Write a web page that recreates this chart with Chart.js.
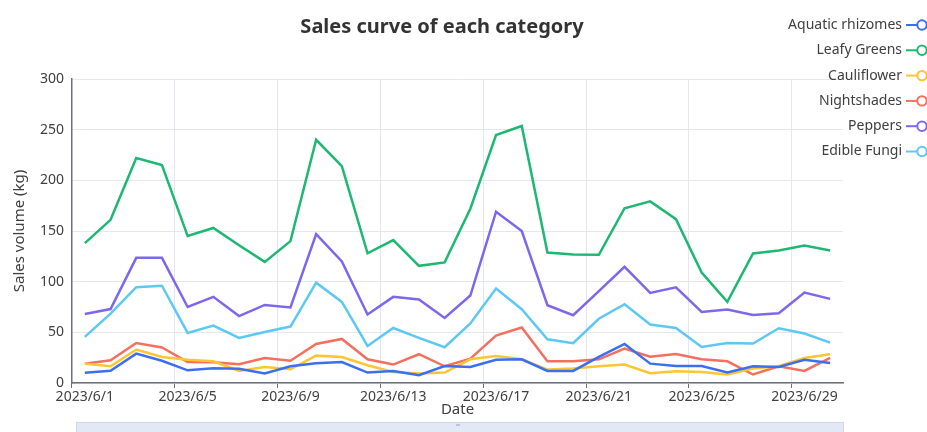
<!DOCTYPE html>
<html>
<head>
<meta charset="utf-8">
<script src="https://cdn.jsdelivr.net/npm/chart.js@4/dist/chart.umd.min.js"></script>
<style>
  html, body { margin: 0; padding: 0; background: #fff; }
  #wrap { width: 927px; height: 432px; position: relative; }
</style>
</head>
<body>
<div id="wrap"><canvas id="salesChart"></canvas></div>
<script>
// Datas: 2023/6/1 .. 2023/6/30
const dates = [];
for (let d = 1; d <= 30; d++) dates.push('2023/6/' + d);

const chartTitle = 'Sales curve of each category';
const seriesNames = ['Aquatic rhizomes', 'Leafy Greens', 'Cauliflower', 'Nightshades', 'Peppers', 'Edible Fungi'];
const seriesColors = ['#3c6ff0', '#1db871', '#fbc633', '#f4705e', '#7b68ee', '#5ec8f4'];

const aquaticRhizomes = [10, 12, 29, 22, 12.5, 14.5, 14, 9.3, 16.5, 19.5, 20.7, 10.3, 11.9, 7.6, 16.8, 15.8, 23, 23.4, 11.9, 11.9, 25.7, 38.5, 19.1, 16.8, 16.8, 10.3, 16.5, 15.8, 23, 19.8];
const leafyGreens = [138, 161, 222, 215, 145, 153, 136, 119.5, 140, 240, 214, 128, 141, 115.6, 119, 172, 244.7, 253.6, 128.8, 126.8, 126.5, 172.5, 179.2, 161.7, 109, 80, 127.8, 130.8, 135.7, 130.8];
const cauliflower = [19, 16.5, 33, 25.7, 23, 21.4, 11.9, 15.8, 13.5, 27, 25.7, 17.5, 10.9, 9.3, 10.3, 23.4, 26.6, 23.4, 13.2, 14.2, 16.5, 18.2, 9.6, 11.6, 10.9, 8.4, 14.2, 16.5, 24.7, 28.4];
const nightshades = [19, 22.4, 39.5, 35, 20.7, 20.4, 18.5, 24.7, 22, 38.5, 43.5, 23.4, 18.2, 28.4, 16.5, 24.1, 46.8, 54.7, 21.4, 21.4, 23.4, 34, 26, 28.7, 23.4, 21.4, 8.4, 16.5, 11.9, 24.7];
const peppers = [68, 73, 123.5, 123.5, 75, 85, 66, 77, 74.5, 147, 120, 67.6, 85, 82.4, 64.2, 86.3, 169, 150, 76.8, 66.9, 90.6, 114.6, 88.9, 94.5, 70.1, 72.5, 67.2, 68.9, 89.3, 83];
const edibleFungi = [45.5, 68.5, 94.5, 96, 49.4, 56.7, 44.5, 50.4, 55.7, 99, 80, 36.6, 54.3, 44.5, 35.3, 58.7, 93.2, 72.8, 43.2, 39.2, 63.4, 77.8, 57.7, 54.3, 35.6, 39.5, 38.9, 54, 48.8, 39.8];

const seriesValues = [aquaticRhizomes, leafyGreens, cauliflower, nightshades, peppers, edibleFungi];
const yTicks = [0, 50, 100, 150, 200, 250, 300];

const FONT = '"Noto Sans", "Open Sans", sans-serif';
const GRID = '#e4e7f0';
const AXIS = '#6e7079';
const TEXT = '#404040';

// título centrado na figura inteira (o plugin padrão centra no espaço sem padding)
const topTitle = {
    id: 'topTitle',
    afterDraw(chart) {
        const ctx = chart.ctx;
        ctx.save();
        ctx.font = 'bold 20px ' + FONT;
        ctx.fillStyle = '#333';
        ctx.textAlign = 'center';
        ctx.textBaseline = 'middle';
        ctx.fillText(chartTitle, 442, 27);
        ctx.restore();
    }
};

// legenda à direita, por cima do gráfico
const sideLegend = {
    id: 'sideLegend',
    afterDraw(chart) {
        const ctx = chart.ctx;
        ctx.save();
        ctx.font = '14px ' + FONT;
        ctx.textAlign = 'right';
        ctx.textBaseline = 'middle';
        chart.data.datasets.forEach((ds, i) => {
            const y = 25 + i * 25.3;
            ctx.fillStyle = TEXT;
            ctx.fillText(ds.label, 902, y);
            ctx.strokeStyle = ds.borderColor;
            ctx.lineWidth = 2;
            ctx.beginPath();
            ctx.moveTo(906, y);
            ctx.lineTo(917, y);
            ctx.stroke();
            ctx.beginPath();
            ctx.arc(922, y, 4.7, 0, Math.PI * 2);
            ctx.fillStyle = '#fff';
            ctx.fill();
            ctx.stroke();
        });
        ctx.restore();
    }
};

// barra de zoom cortada no rodapé
const zoomBar = {
    id: 'zoomBar',
    afterDraw(chart) {
        const ctx = chart.ctx;
        ctx.save();
        ctx.fillStyle = '#e2e8f6';
        ctx.fillRect(76, 422, 767, 12);
        ctx.strokeStyle = '#cdd5e8';
        ctx.lineWidth = 1;
        ctx.strokeRect(76.5, 422.5, 767, 12);
        ctx.fillStyle = '#b9c4dd';
        ctx.fillRect(456, 424, 4, 2);
        ctx.restore();
    }
};

const datasets = seriesNames.map((name, i) => ({
    label: name,
    data: seriesValues[i],
    borderColor: seriesColors[i],
    backgroundColor: seriesColors[i],
    borderWidth: 2.5,
    pointRadius: 0,
    tension: 0,
    fill: false
}));

new Chart(document.getElementById('salesChart'), {
    type: 'line',
    data: { labels: dates, datasets: datasets },
    options: {
        responsive: true,
        maintainAspectRatio: false,
        animation: false,
        layout: { padding: { left: 3, right: 84, top: 79, bottom: 13 } },
        scales: {
            x: {
                offset: true,
                grid: {
                    offset: true,
                    color: (c) => (c.index % 4 === 0 || c.index === 30) ? GRID : 'transparent',
                    tickColor: (c) => (c.index % 4 === 0 || c.index === 30) ? AXIS : 'transparent',
                    tickLength: 5
                },
                border: { color: AXIS, width: 1.5 },
                ticks: {
                    autoSkip: false,
                    maxRotation: 0,
                    padding: 1,
                    color: TEXT,
                    font: { family: FONT, size: 14 },
                    callback: function (v, i) { return i % 4 === 0 ? this.getLabelForValue(v) : ''; }
                },
                title: { display: true, text: 'Date', color: TEXT, font: { family: FONT, size: 15 }, padding: { top: 0, bottom: 0 } },
                afterFit: (scale) => { scale.height = 36; }
            },
            y: {
                min: 0,
                max: 300,
                afterBuildTicks: (scale) => { scale.ticks = yTicks.map(v => ({ value: v })); },
                grid: { color: GRID, drawTicks: false },
                border: { color: AXIS, width: 1.5 },
                ticks: { padding: 8, color: TEXT, font: { family: FONT, size: 14 } },
                title: { display: true, text: 'Sales volume (kg)', color: TEXT, font: { family: FONT, size: 15 }, padding: { top: 8, bottom: 0 } },
                afterFit: (scale) => { scale.width = 69; }
            }
        },
        plugins: {
            legend: { display: false },
            tooltip: { enabled: false },
            title: { display: false }
        }
    },
    plugins: [topTitle, sideLegend, zoomBar]
});
</script>
</body>
</html>
